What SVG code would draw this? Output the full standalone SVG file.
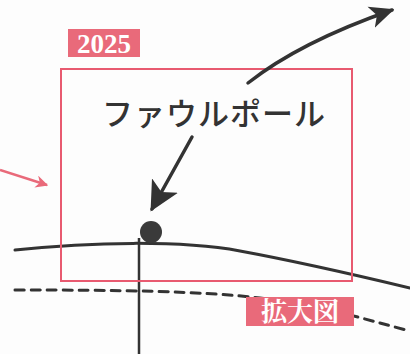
<svg xmlns="http://www.w3.org/2000/svg" width="410" height="354" viewBox="0 0 410 354">
<style>
.lbl{fill:#e96a7a}
.lbltxt{fill:#ffffff;font-family:"Liberation Serif","Noto Serif CJK JP","Noto Sans CJK JP",serif}
.dark{stroke:#333;fill:none;stroke-linecap:round}
</style>
<defs>
<marker id="ahDark" viewBox="0 0 10 10" refX="9" refY="5" markerWidth="7" markerHeight="7" orient="auto" markerUnits="strokeWidth">
<path d="M0,0.5 L10,5 L0,9.5 L2.5,5 z" fill="#333"/>
</marker>
<marker id="ahBig" viewBox="0 0 10 10" refX="9" refY="5" markerWidth="8.5" markerHeight="8.5" orient="auto" markerUnits="strokeWidth">
<path d="M0,0 L10,5 L0,10 L2.5,5 z" fill="#333"/>
</marker>
<marker id="ahPink" viewBox="0 0 10 10" refX="9" refY="5" markerWidth="5" markerHeight="5" orient="auto" markerUnits="strokeWidth">
<path d="M0,0 L10,5 L0,10 L3,5 z" fill="#e96a7a"/>
</marker>
</defs>
<rect width="410" height="354" fill="#fdfdfd"/>
<g id="ground">
<path class="dark" d="M15,250 C90,242 180,240 240,251 S360,276 410,288" stroke-width="3"/>
<path class="dark" d="M15,290 C120,290 200,291 260,298 S360,318 410,331" stroke-width="3" stroke-dasharray="9,7" stroke-linecap="butt"/>
</g>
<g id="pole">
<line x1="139" y1="238" x2="139" y2="354" stroke="#333" stroke-width="2.5"/>
<circle cx="151" cy="232" r="11" fill="#3a3a3a"/>
</g>
<g id="frame">
<rect x="61" y="69" width="291" height="212" fill="none" stroke="#e85a70" stroke-width="2"/>
</g>
<g id="label-2025">
<rect class="lbl" x="68" y="29" width="72" height="28"/>
<text class="lbltxt" x="104" y="53" font-size="27" font-weight="bold" text-anchor="middle">2025</text>
</g>
<g id="label-kakudaizu">
<rect class="lbl" x="246" y="297" width="108" height="29"/>
<text class="lbltxt" x="300" y="321" font-size="26" font-weight="bold" text-anchor="middle">拡大図</text>
</g>
<g id="title">
<text x="214" y="125" font-size="31" font-weight="500" text-anchor="middle" fill="#333" font-family="'Noto Sans CJK JP','Noto Sans',sans-serif" letter-spacing="1">ファウルポール</text>
</g>
<g id="connectors">
<path class="dark" d="M248,83 Q300,42 392,10" stroke-width="3.5" marker-end="url(#ahDark)"/>
<path class="dark" d="M192,137 L152,209" stroke-width="3.5" marker-end="url(#ahBig)"/>
<path d="M0,170 L47,185" stroke="#e96a7a" stroke-width="2.5" fill="none" marker-end="url(#ahPink)"/>
</g>
</svg>
